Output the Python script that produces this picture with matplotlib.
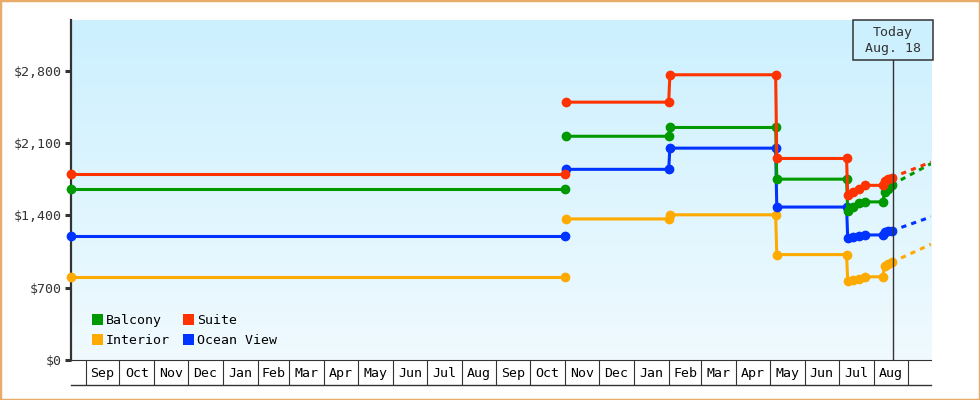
import numpy as np
import pandas as pd
import matplotlib
matplotlib.use("Agg")
import matplotlib.pyplot as plt
import matplotlib.dates as mdates
import matplotlib.transforms as mtransforms
from matplotlib.patches import Patch, Rectangle
from matplotlib.colors import LinearSegmentedColormap

# first (older) price period, flat
dates_early = ["2022-08-19", "2023-11-01"]
balcony_early = [1650, 1650]
suite_early = [1800, 1800]
interior_early = [805, 805]
ocean_view_early = [1200, 1200]

# recent price history
dates_recent = ["2023-11-02", "2024-02-01", "2024-02-02", "2024-05-06", "2024-05-07",
                "2024-07-08", "2024-07-09", "2024-07-14", "2024-07-19", "2024-07-24",
                "2024-08-09", "2024-08-11", "2024-08-14", "2024-08-17"]
balcony = [2165, 2165, 2250, 2250, 1750, 1750, 1445, 1480, 1515, 1530, 1530, 1625, 1655, 1695]
suite = [2495, 2495, 2760, 2760, 1950, 1950, 1600, 1625, 1650, 1690, 1690, 1735, 1755, 1765]
interior = [1365, 1365, 1405, 1405, 1020, 1020, 765, 775, 785, 805, 805, 905, 930, 945]
ocean_view = [1845, 1845, 2050, 2050, 1480, 1480, 1180, 1190, 1200, 1210, 1210, 1240, 1250, 1250]

# projected trend (dashed)
dates_proj = ["2024-08-17", "2024-09-21"]
balcony_proj = [1695, 1900]
suite_proj = [1765, 1915]
interior_proj = [945, 1120]
ocean_view_proj = [1250, 1385]

today = pd.Timestamp("2024-08-18")
x_start, x_end = pd.Timestamp("2022-08-19"), pd.Timestamp("2024-09-21")
y_ticks = [0, 700, 1400, 2100, 2800]

colors = {"Balcony": "#009900", "Suite": "#FF3300",
          "Interior": "#FFAA00", "Ocean View": "#0033FF"}
mono = "DejaVu Sans Mono"
fs = 9.5
dark = "#333333"

fig = plt.figure(figsize=(9.8, 4), dpi=100)
ax = fig.add_axes([71/980, 40/400, 860/980, 340/400])

# background gradient
cmap = LinearSegmentedColormap.from_list("bg", ["#F0FAFF", "#CCF0FE"])
grad = np.linspace(0, 1, 256).reshape(-1, 1)
ax.imshow(grad, cmap=cmap, origin="lower", extent=[0, 1, 0, 1],
          transform=ax.transAxes, aspect="auto", zorder=0)

d_early = pd.to_datetime(dates_early)
d_recent = pd.to_datetime(dates_recent)
d_proj = pd.to_datetime(dates_proj)

series = [
    ("Interior", interior_early, interior, interior_proj),
    ("Ocean View", ocean_view_early, ocean_view, ocean_view_proj),
    ("Balcony", balcony_early, balcony, balcony_proj),
    ("Suite", suite_early, suite, suite_proj),
]
for i, (name, early, recent, proj) in enumerate(series):
    c = colors[name]
    z = 3 + i
    ax.plot(d_early, early, color=c, lw=2.2, marker="o", ms=6, zorder=z, clip_on=False)
    ax.plot(d_recent, recent, color=c, lw=2.2, marker="o", ms=6, zorder=z, clip_on=False)
    ax.plot(d_proj, proj, color=c, lw=2.2, dashes=(1.7, 1.7), zorder=z)

ax.set_xlim(x_start, x_end)
ax.set_ylim(0, 3290)

# y axis
ax.set_yticks(y_ticks)
ax.set_yticklabels(["${:,.0f}".format(v) for v in y_ticks])
ax.tick_params(axis="y", length=4.5, width=2.2, color=dark, pad=2,
               labelsize=fs, labelcolor=dark)
for lab in ax.get_yticklabels():
    lab.set_family(mono)

# x axis: month boxes
month_starts = pd.date_range("2022-09-01", "2024-09-01", freq="MS")
mids = month_starts[:-1] + (month_starts[1:] - month_starts[:-1]) / 2
ax.xaxis.set_major_locator(mdates.MonthLocator())
ax.xaxis.set_major_formatter(plt.NullFormatter())
ax.set_xticks(mids, minor=True)
ax.set_xticklabels([m.strftime("%b") for m in mids], minor=True)
ax.tick_params(axis="x", which="major", direction="out", length=18, width=0.8, color=dark)
ax.tick_params(axis="x", which="minor", length=0, pad=5, labelsize=fs, labelcolor="black")
for lab in ax.get_xticklabels(minor=True):
    lab.set_family(mono)

ax.plot([0, 1], [-25/340, -25/340], transform=ax.transAxes, color=dark,
        lw=1, clip_on=False)

for s in ["top", "right"]:
    ax.spines[s].set_visible(False)
ax.spines["left"].set_color(dark)
ax.spines["left"].set_linewidth(1.6)
ax.spines["bottom"].set_color(dark)
ax.spines["bottom"].set_linewidth(0.8)

# today marker
trans = mtransforms.blended_transform_factory(ax.transData, ax.transAxes)
tnum = mdates.date2num(today)
ax.plot([today, today], [0, 300/340], transform=trans, color=dark, lw=1, zorder=10)
ax.add_patch(Rectangle((tnum - 35.5, 300/340), 71, 40/340, transform=trans,
                       facecolor="#CCF0FE", edgecolor=dark, lw=1.1,
                       clip_on=False, zorder=11))
ax.text(tnum, 1 - 20.5/340, "Today\nAug. 18", transform=trans, ha="center", va="center",
        fontsize=fs, family=mono, color=dark, linespacing=1.3, zorder=12)

# legend (row-wise: Balcony, Suite / Interior, Ocean View)
order = ["Balcony", "Interior", "Suite", "Ocean View"]
handles = [Patch(facecolor=colors[n], edgecolor="none", label=n) for n in order]
ax.legend(handles=handles, loc="lower left", bbox_to_anchor=(0.017, 0.018), ncol=2,
          frameon=False, borderpad=0, handlelength=0.85, handleheight=0.85,
          handletextpad=0.2, columnspacing=1.0, labelspacing=0.55,
          prop={"family": mono, "size": fs})

fig.add_artist(Rectangle((0, 0), 1, 1, transform=fig.transFigure, fill=False,
                         edgecolor="#E9AB6A", lw=2.5))

fig.savefig("out.png", dpi=100)
